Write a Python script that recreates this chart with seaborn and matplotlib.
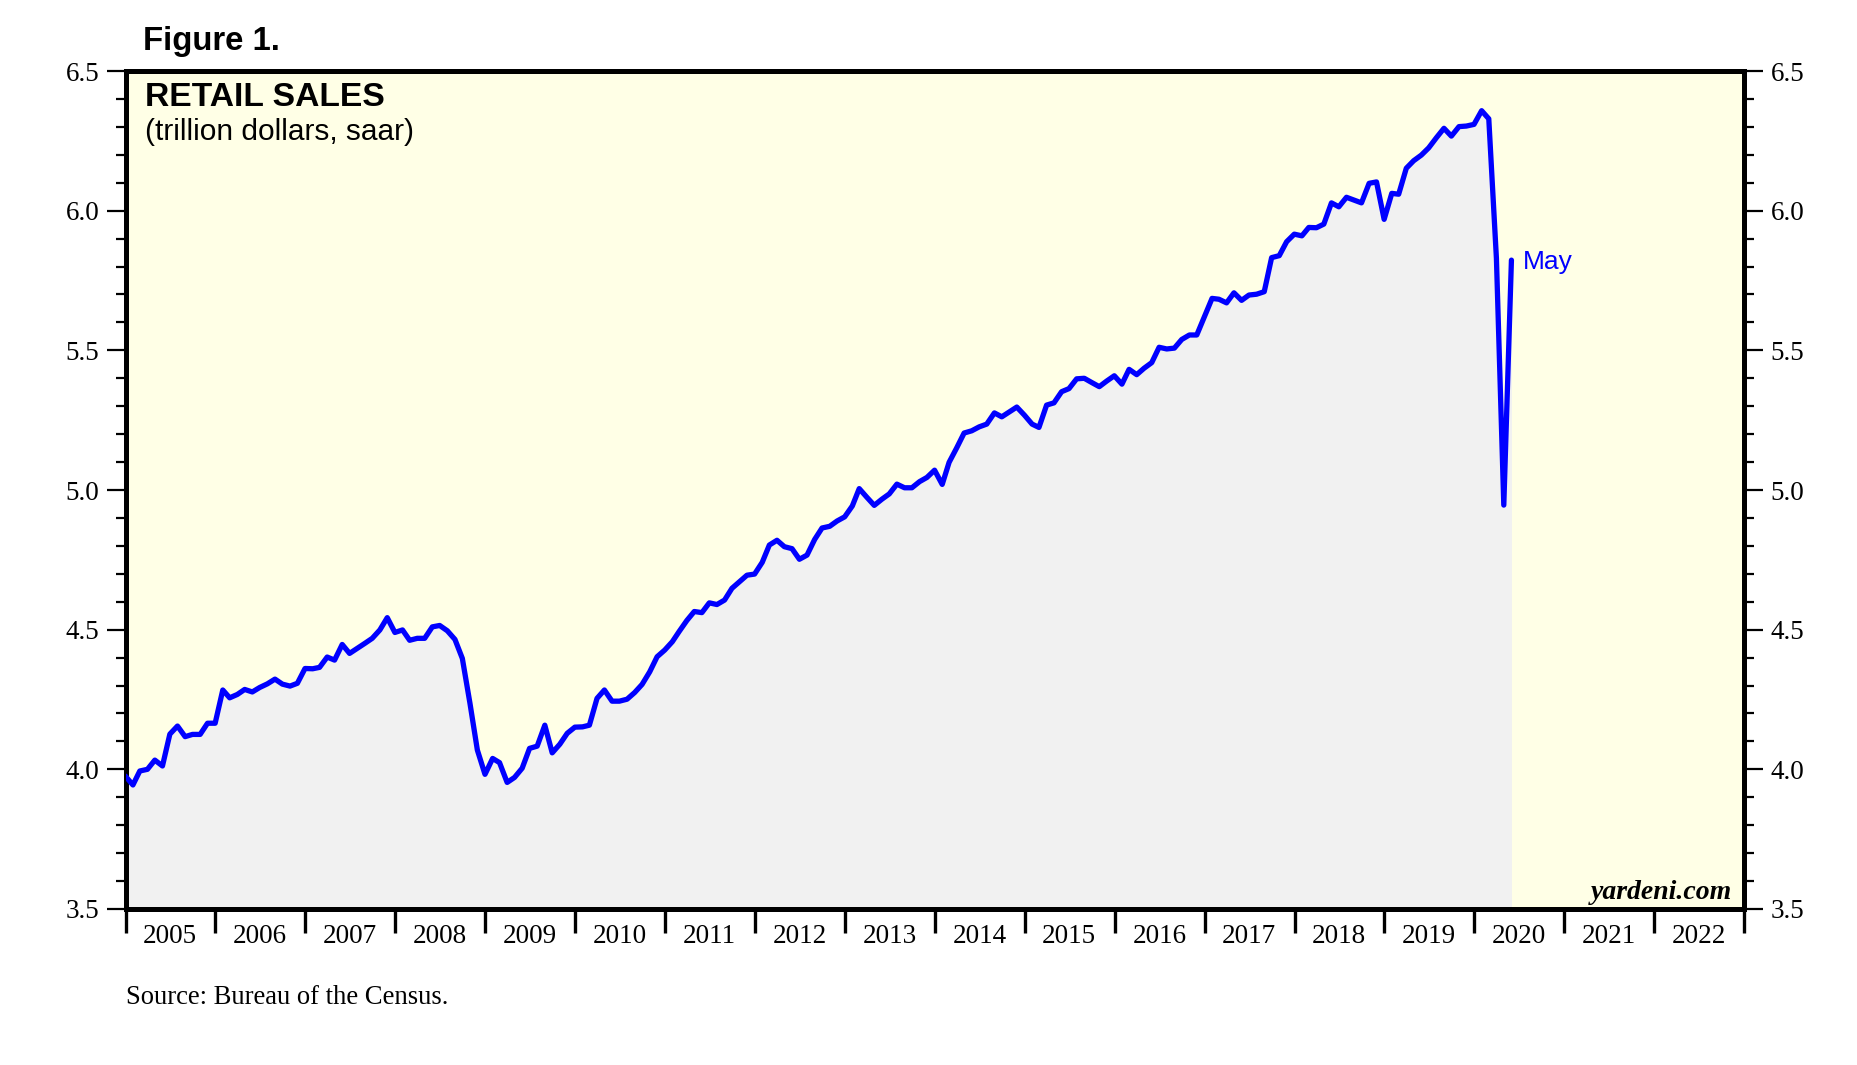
import pandas as pd
import matplotlib
matplotlib.use("Agg")
import matplotlib.pyplot as plt
import matplotlib.dates as mdates
from matplotlib.ticker import MultipleLocator, NullFormatter
import seaborn as sns

# Retail sales, trillion dollars saar, monthly (Dec 2004 .. May 2020)
sales_2004 = [3.976]
sales_2005 = [3.944, 3.994, 4.000, 4.033, 4.012, 4.126, 4.155, 4.117, 4.125, 4.125, 4.165, 4.165]
sales_2006 = [4.284, 4.256, 4.268, 4.286, 4.277, 4.293, 4.306, 4.323, 4.305, 4.298, 4.308, 4.361]
sales_2007 = [4.360, 4.365, 4.402, 4.391, 4.447, 4.415, 4.433, 4.451, 4.469, 4.499, 4.543, 4.490]
sales_2008 = [4.499, 4.462, 4.469, 4.469, 4.510, 4.515, 4.496, 4.465, 4.397, 4.236, 4.069, 3.982]
sales_2009 = [4.039, 4.024, 3.953, 3.971, 4.004, 4.075, 4.083, 4.158, 4.059, 4.090, 4.129, 4.151]
sales_2010 = [4.152, 4.158, 4.254, 4.284, 4.244, 4.244, 4.251, 4.275, 4.304, 4.349, 4.403, 4.427]
sales_2011 = [4.457, 4.494, 4.533, 4.565, 4.561, 4.596, 4.590, 4.606, 4.648, 4.672, 4.695, 4.699]
sales_2012 = [4.741, 4.803, 4.820, 4.797, 4.790, 4.752, 4.767, 4.823, 4.864, 4.870, 4.889, 4.904]
sales_2013 = [4.943, 5.005, 4.974, 4.945, 4.967, 4.986, 5.021, 5.008, 5.008, 5.030, 5.045, 5.071]
sales_2014 = [5.020, 5.099, 5.151, 5.204, 5.212, 5.226, 5.236, 5.276, 5.262, 5.280, 5.297, 5.268]
sales_2015 = [5.236, 5.224, 5.304, 5.312, 5.352, 5.363, 5.398, 5.400, 5.385, 5.370, 5.390, 5.409]
sales_2016 = [5.379, 5.432, 5.413, 5.436, 5.456, 5.511, 5.505, 5.508, 5.539, 5.555, 5.555, 5.620]
sales_2017 = [5.686, 5.683, 5.670, 5.706, 5.679, 5.698, 5.701, 5.710, 5.832, 5.839, 5.889, 5.916]
sales_2018 = [5.910, 5.940, 5.939, 5.952, 6.028, 6.014, 6.048, 6.038, 6.028, 6.098, 6.103, 5.969]
sales_2019 = [6.062, 6.059, 6.152, 6.179, 6.199, 6.225, 6.261, 6.295, 6.267, 6.301, 6.303, 6.309]
sales_2020 = [6.358, 6.329, 5.830, 4.946, 5.823]

start_month = "2004-12-31"
last_label = "May"

BLUE = "#0000FF"
YELLOW = "#FFFFE6"
GRAY = "#F1F1F1"


def build_frame():
    values = (sales_2004 + sales_2005 + sales_2006 + sales_2007 + sales_2008
              + sales_2009 + sales_2010 + sales_2011 + sales_2012 + sales_2013
              + sales_2014 + sales_2015 + sales_2016 + sales_2017 + sales_2018
              + sales_2019 + sales_2020)
    # each month plotted at its month end
    dates = pd.date_range(start_month, periods=len(values), freq="ME")
    return pd.DataFrame({"date": dates, "sales": values})


def main():
    df = build_frame()

    sns.set_style("ticks")
    plt.rcParams["font.family"] = ["Liberation Serif", "DejaVu Serif"]
    plt.rcParams["text.color"] = "black"
    plt.rcParams["xtick.color"] = "black"
    plt.rcParams["ytick.color"] = "black"

    fig = plt.figure(figsize=(18.57, 10.65), dpi=100)
    ax = fig.add_axes([0.0676, 0.1465, 0.8716, 0.7868])
    ax.set_facecolor(YELLOW)

    # grey area under the curve
    ax.fill_between(df["date"], df["sales"], 3.5, color=GRAY, linewidth=0, zorder=1)
    sns.lineplot(data=df, x="date", y="sales", color=BLUE, linewidth=3.8,
                 ax=ax, zorder=3)

    ax.set_xlim(pd.Timestamp("2005-01-01"), pd.Timestamp("2023-01-01"))
    ax.set_ylim(3.5, 6.5)
    ax.set_xlabel("")
    ax.set_ylabel("")

    # y axis: labels every 0.5, small ticks every 0.1, both sides
    ax.yaxis.set_major_locator(MultipleLocator(0.5))
    ax.yaxis.set_minor_locator(MultipleLocator(0.1))
    ax.yaxis.set_major_formatter(plt.FuncFormatter(lambda v, p: f"{v:.1f}"))
    ax.tick_params(axis="y", which="both", left=True, right=True,
                   labelleft=True, labelright=True, direction="out",
                   width=1.6, colors="black", labelsize=19.5, pad=5)
    ax.tick_params(axis="y", which="major", length=14)
    ax.tick_params(axis="y", which="minor", length=7)

    # x axis: year boundaries as ticks, year names in the middle
    ax.xaxis.set_major_locator(mdates.YearLocator())
    ax.xaxis.set_major_formatter(NullFormatter())
    ax.xaxis.set_minor_locator(mdates.MonthLocator(bymonth=7))
    ax.xaxis.set_minor_formatter(mdates.DateFormatter("%Y"))
    ax.tick_params(axis="x", which="major", length=17, width=2.4,
                   direction="out", colors="black")
    ax.tick_params(axis="x", which="minor", length=0, labelsize=19.5, pad=11,
                   colors="black")

    for side in ["left", "right", "top", "bottom"]:
        ax.spines[side].set_visible(True)
        ax.spines[side].set_linewidth(3.6)
        ax.spines[side].set_color("black")

    # titles inside the plot
    ax.text(0.012, 0.958, "RETAIL SALES", transform=ax.transAxes,
            fontsize=24.2, fontweight="bold", family="Liberation Sans",
            va="baseline", ha="left", color="black")
    ax.text(0.012, 0.9177, "(trillion dollars, saar)", transform=ax.transAxes,
            fontsize=21.5, family="Liberation Sans", va="baseline", ha="left",
            color="black")
    ax.text(0.9924, 0.012, "yardeni.com", transform=ax.transAxes,
            fontsize=20, fontweight="bold", style="italic",
            va="baseline", ha="right", color="black")

    last = df.iloc[-1]
    ax.annotate(last_label, xy=(last["date"], last["sales"]),
                xytext=(8, -1), textcoords="offset points",
                color=BLUE, fontsize=19, family="Liberation Sans",
                va="center", ha="left")

    fig.text(0.077, 0.953, "Figure 1.", fontsize=23.7, fontweight="bold",
             family="Liberation Sans", va="baseline", ha="left", color="black")
    fig.text(0.0676, 1 - 1004 / 1065, "Source: Bureau of the Census.",
             fontsize=19.2, va="baseline", ha="left", color="black")

    fig.savefig("out.png", dpi=100, facecolor="white")
    plt.close(fig)


if __name__ == "__main__":
    main()
